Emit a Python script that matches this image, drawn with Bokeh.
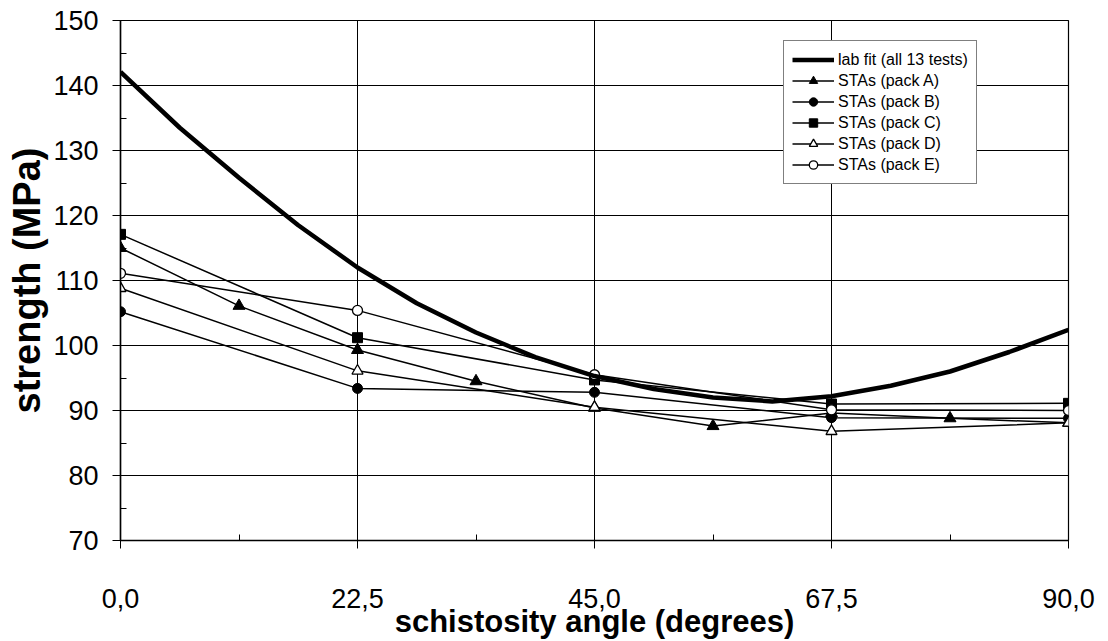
from bokeh.plotting import figure
from bokeh.models import Range1d, FixedTicker, Legend, LegendItem
from bokeh.embed import file_html
from bokeh.resources import INLINE

# Schistosity angle (degrees) at which the STAs were evaluated
angle = [0.0, 22.5, 45.0, 67.5, 90.0]
angle_a = [0.0, 11.25, 22.5, 33.75, 45.0, 56.25, 67.5, 78.75, 90.0]

# Strength (MPa) per pack
pack_a = [115.0, 106.1, 99.3, 94.5, 90.4, 87.6, 89.6, 88.8, 88.1]
pack_b = [105.2, 93.4, 92.8, 88.9, 88.8]
pack_c = [117.1, 101.2, 94.7, 91.0, 91.1]
pack_d = [108.8, 96.1, 90.5, 86.8, 88.1]
pack_e = [111.1, 105.4, 95.5, 90.1, 90.0]

# Laboratory fit over all 13 tests
fit_angle = [0.0, 5.625, 11.25, 16.875, 22.5, 28.125, 33.75, 39.375, 45.0,
             50.625, 56.25, 61.875, 67.5, 73.125, 78.75, 84.375, 90.0]
lab_fit = [142.1, 133.5, 125.8, 118.5, 112.0, 106.5, 102.0, 98.2, 95.3,
           93.3, 92.0, 91.4, 92.2, 93.8, 96.0, 99.0, 102.4]

x_ticks = [0.0, 22.5, 45.0, 67.5, 90.0]
x_tick_labels = ["0,0", "22,5", "45,0", "67,5", "90,0"]
x_minor = [11.25, 33.75, 56.25, 78.75]
y_ticks = [70, 80, 90, 100, 110, 120, 130, 140, 150]
y_minor = [75, 85, 95, 105, 115, 125, 135, 145]

FONT = "Liberation Sans"

p = figure(width=1108, height=641, output_backend="svg", toolbar_location=None,
           x_range=Range1d(0, 90), y_range=Range1d(70, 150),
           min_border_left=120, min_border_right=40,
           min_border_top=20, min_border_bottom=100)
p.background_fill_color = "white"
p.border_fill_color = "white"
p.outline_line_color = "black"
p.outline_line_width = 1.2

# axes
p.xaxis.ticker = FixedTicker(ticks=x_ticks, minor_ticks=x_minor)
p.xaxis.major_label_overrides = {t: s for t, s in zip(x_ticks, x_tick_labels)}
p.yaxis.ticker = FixedTicker(ticks=y_ticks, minor_ticks=y_minor)

for ax in (p.xaxis[0], p.yaxis[0]):
    ax.axis_line_color = "black"
    ax.axis_line_width = 1.5
    ax.major_tick_line_color = "black"
    ax.minor_tick_line_color = "black"
    ax.major_tick_in = 0
    ax.major_tick_out = 8
    ax.minor_tick_in = 6
    ax.minor_tick_out = 0
    ax.major_label_text_font = FONT
    ax.major_label_text_font_size = "27px"
    ax.major_label_text_color = "black"
    ax.axis_label_text_font = FONT
    ax.axis_label_text_font_style = "bold"
    ax.axis_label_text_color = "black"

p.xaxis.major_label_standoff = 40
p.xaxis.axis_label = "schistosity angle (degrees)"
p.xaxis.axis_label_text_font_size = "31px"
p.xaxis.axis_label_standoff = -7

p.yaxis.major_label_standoff = 14
p.yaxis.axis_label = "strength (MPa)"
p.yaxis.axis_label_text_font_size = "38px"
p.yaxis.axis_label_standoff = 2

# grid
p.xgrid.ticker = FixedTicker(ticks=x_ticks)
p.ygrid.ticker = FixedTicker(ticks=y_ticks)
for g in (p.xgrid[0], p.ygrid[0]):
    g.grid_line_color = "black"
    g.grid_line_width = 1

# series
lw = 1.5
la = p.line(angle_a, pack_a, line_color="black", line_width=lw)
sa = p.scatter(angle_a, pack_a, marker="triangle", size=12,
               fill_color="black", line_color="black")
lb = p.line(angle, pack_b, line_color="black", line_width=lw)
sb = p.scatter(angle, pack_b, marker="circle", size=10,
               fill_color="black", line_color="black")
lc = p.line(angle, pack_c, line_color="black", line_width=lw)
sc = p.scatter(angle, pack_c, marker="square", size=10,
               fill_color="black", line_color="black")
ld = p.line(angle, pack_d, line_color="black", line_width=lw)
sd = p.scatter(angle, pack_d, marker="triangle", size=11,
               fill_color="white", line_color="black", line_width=1.3)
le = p.line(angle, pack_e, line_color="black", line_width=lw)
se = p.scatter(angle, pack_e, marker="circle", size=10,
               fill_color="white", line_color="black", line_width=1.3)
lf = p.line(fit_angle, lab_fit, line_color="black", line_width=4.5)

legend = Legend(items=[
    LegendItem(label="lab fit (all 13 tests)", renderers=[lf]),
    LegendItem(label="STAs (pack A)", renderers=[la, sa]),
    LegendItem(label="STAs (pack B)", renderers=[lb, sb]),
    LegendItem(label="STAs (pack C)", renderers=[lc, sc]),
    LegendItem(label="STAs (pack D)", renderers=[ld, sd]),
    LegendItem(label="STAs (pack E)", renderers=[le, se]),
], location=(663, 356))
legend.label_text_font = FONT
legend.label_text_font_size = "16px"
legend.label_text_color = "black"
legend.label_height = 21
legend.glyph_height = 21
legend.glyph_width = 42
legend.label_standoff = 4
legend.spacing = 0
legend.padding = 8
legend.margin = 0
legend.border_line_color = "black"
legend.border_line_width = 1
legend.background_fill_color = "white"
legend.background_fill_alpha = 1.0
p.add_layout(legend)

open("out.html", "w").write(file_html(p, INLINE))
